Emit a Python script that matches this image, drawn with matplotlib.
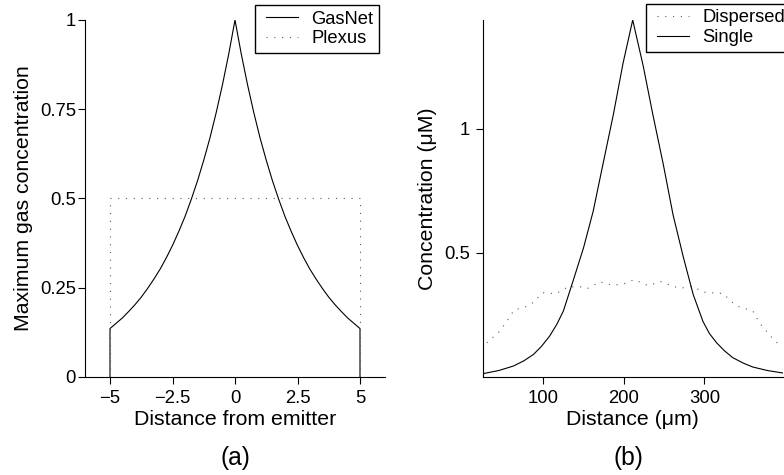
import matplotlib
matplotlib.use('Agg')
import matplotlib.pyplot as plt

plt.rcParams['font.family'] = ['Liberation Sans', 'DejaVu Sans']
plt.rcParams['font.size'] = 13.3

# panel (a): maximum gas concentration vs distance from emitter
gasnet_x = [-5, -5, -4.75, -4.5, -4.25, -4, -3.75, -3.5, -3.25, -3, -2.75, -2.5,
            -2.25, -2, -1.75, -1.5, -1.25, -1, -0.75, -0.5, -0.25, 0,
            0.25, 0.5, 0.75, 1, 1.25, 1.5, 1.75, 2, 2.25, 2.5,
            2.75, 3, 3.25, 3.5, 3.75, 4, 4.25, 4.5, 4.75, 5, 5]
gasnet_y = [0, 0.135, 0.150, 0.165, 0.183, 0.202, 0.223, 0.247, 0.273, 0.301, 0.333, 0.368,
            0.407, 0.449, 0.497, 0.549, 0.607, 0.670, 0.741, 0.819, 0.905, 1.0,
            0.905, 0.819, 0.741, 0.670, 0.607, 0.549, 0.497, 0.449, 0.407, 0.368,
            0.333, 0.301, 0.273, 0.247, 0.223, 0.202, 0.183, 0.165, 0.150, 0.135, 0]
plexus_x = [-5, -5, 5, 5]
plexus_y = [0, 0.5, 0.5, 0]

# panel (b): concentration vs distance
single_x = [25, 45, 63, 76, 88, 98, 108, 117, 125, 137, 150, 162, 174, 187, 199, 211,
            224, 236, 249, 261, 274, 286, 298, 306, 315, 325, 335, 348, 360, 378, 397]
single_y = [0.012, 0.025, 0.043, 0.064, 0.09, 0.123, 0.164, 0.212, 0.265, 0.386, 0.52,
            0.668, 0.856, 1.058, 1.265, 1.44,
            1.255, 1.058, 0.856, 0.654, 0.48, 0.332, 0.224, 0.175, 0.137, 0.104, 0.077,
            0.055, 0.039, 0.025, 0.015]
dispersed_x = [30, 45, 55, 64, 81, 88, 99, 116, 131, 146, 155, 170, 186, 200,
               213, 230, 246, 261, 270, 285, 299, 323, 336, 343, 360, 368, 383, 392]
dispersed_y = [0.137, 0.18, 0.224, 0.269, 0.285, 0.301, 0.339, 0.335, 0.363, 0.363,
               0.356, 0.383, 0.369, 0.375, 0.392, 0.368, 0.384, 0.365, 0.357, 0.365,
               0.341, 0.336, 0.296, 0.282, 0.265, 0.218, 0.16, 0.131]

W, H = 784, 475
fig = plt.figure(figsize=(W / 100, H / 100), dpi=100)

dotted = (0, (1, 6))
grey = '0.35'
label_size = 15.3
legend_size = 13.2


def style(ax, ypad):
    for s in ['top', 'right']:
        ax.spines[s].set_visible(False)
    for s in ['left', 'bottom']:
        ax.spines[s].set_linewidth(0.8)
    ax.tick_params(direction='out', length=5, width=0.8)
    ax.tick_params(axis='x', pad=4.5)
    ax.tick_params(axis='y', pad=ypad)


def add_legend(ax, x0, y0):
    leg = ax.legend(loc='upper left', bbox_to_anchor=(x0 / W, 1 - y0 / H),
                    bbox_transform=fig.transFigure, frameon=True, fancybox=False,
                    edgecolor='black', framealpha=1, borderaxespad=0, borderpad=0.3,
                    handlelength=2.05, handletextpad=0.72, labelspacing=0.15,
                    fontsize=legend_size)
    leg.get_frame().set_linewidth(1.0)
    # R-style legend: the key line starts a little further in from the frame
    for line in leg.get_lines():
        xd = line.get_xdata()
        yd = line.get_ydata()
        line.set_data([xd[0] + 4, xd[-1]], [yd[0], yd[-1]])
    return leg


ax1 = fig.add_axes([85 / W, 1 - 376.7 / H, 300 / W, 356.7 / H])
ax1.plot(gasnet_x, gasnet_y, color='black', lw=0.8, label='GasNet')
ax1.plot(plexus_x, plexus_y, color=grey, lw=0.8, ls=dotted, label='Plexus')
ax1.set_xlim(-6, 6)
ax1.set_ylim(0, 1)
ax1.set_xticks([-5, -2.5, 0, 2.5, 5])
ax1.set_xticklabels(['\u22125', '\u22122.5', '0', '2.5', '5'])
ax1.set_yticks([0, 0.25, 0.5, 0.75, 1])
ax1.set_yticklabels(['0', '0.25', '0.5', '0.75', '1'])
ax1.set_xlabel('Distance from emitter', fontsize=label_size, labelpad=2)
ax1.set_ylabel('Maximum gas concentration', fontsize=label_size, labelpad=5)
style(ax1, 1.5)
add_legend(ax1, 255, 5)

ax2 = fig.add_axes([482.7 / W, 1 - 376.7 / H, 300 / W, 356.7 / H])
ax2.plot(dispersed_x, dispersed_y, color=grey, lw=0.8, ls=dotted, label='Dispersed')
ax2.plot(single_x, single_y, color='black', lw=0.8, label='Single')
ax2.set_xlim(25, 397)
ax2.set_ylim(0, 1.44)
ax2.set_xticks([100, 200, 300])
ax2.set_yticks([0.5, 1])
ax2.set_yticklabels(['0.5', '1'])
ax2.set_xlabel('Distance (\u03bcm)', fontsize=label_size, labelpad=2)
ax2.set_ylabel('Concentration (\u03bcM)', fontsize=label_size, labelpad=5)
style(ax2, 4)
add_legend(ax2, 646, 4)

fig.text(235 / W, 1 - 458 / H, '(a)', fontsize=17.7, ha='center', va='center')
fig.text(628 / W, 1 - 458 / H, '(b)', fontsize=17.7, ha='center', va='center')

fig.savefig('out.png', dpi=100)
